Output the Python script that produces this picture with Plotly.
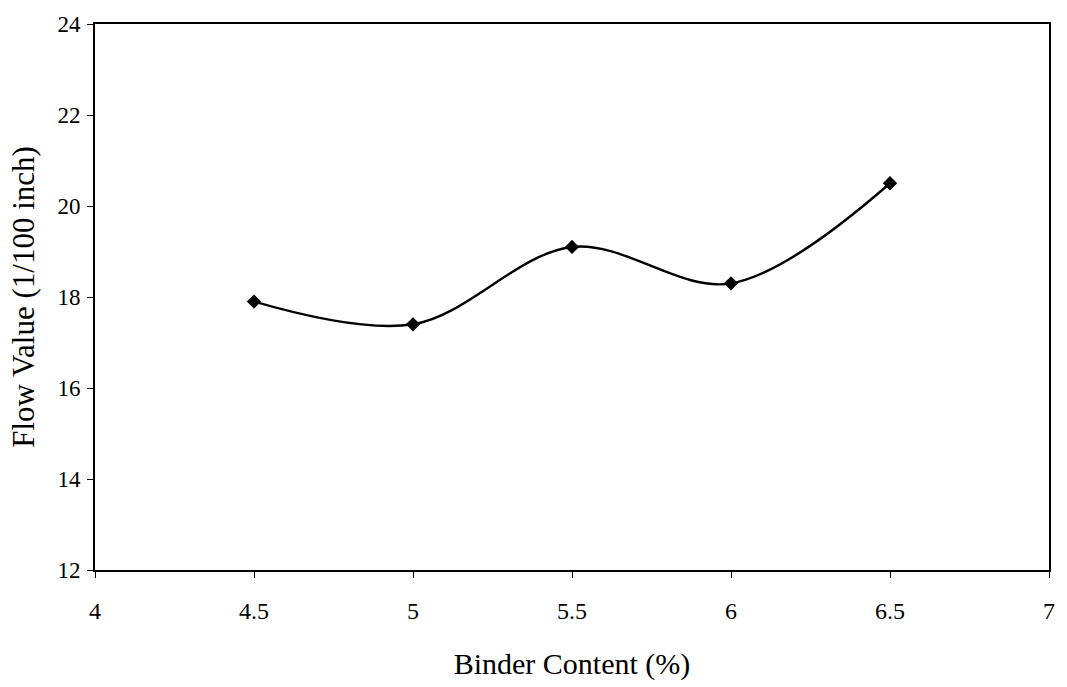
import plotly.graph_objects as go

# Marshall flow test results
binder_content = [4.5, 5.0, 5.5, 6.0, 6.5]
flow_value = [17.9, 17.4, 19.1, 18.3, 20.5]

x_ticks = [4, 4.5, 5, 5.5, 6, 6.5, 7]
x_tick_text = ["4", "4.5", "5", "5.5", "6", "6.5", "7"]
y_ticks = [12, 14, 16, 18, 20, 22, 24]

font_family = "Liberation Serif, Times New Roman, serif"

fig = go.Figure()
fig.add_trace(go.Scatter(
    x=binder_content,
    y=flow_value,
    mode="lines+markers",
    line=dict(color="black", width=2.4, shape="spline", smoothing=1.0),
    marker=dict(symbol="diamond", size=11, color="black"),
    showlegend=False,
))

axis_common = dict(
    showgrid=False,
    zeroline=False,
    showline=True,
    linecolor="black",
    linewidth=2,
    mirror=True,
    ticks="outside",
    ticklen=6,
    tickwidth=1,
    tickcolor="black",
)

fig.update_layout(
    width=1067,
    height=687,
    margin=dict(l=95, r=15, t=22, b=116),
    paper_bgcolor="white",
    plot_bgcolor="white",
    xaxis=dict(
        range=[4, 7],
        tickvals=x_ticks,
        ticktext=x_tick_text,
        ticklabelstandoff=12,
        tickfont=dict(family=font_family, size=24, color="black"),
        title=dict(text="Binder Content (%)", font=dict(family=font_family, size=30, color="black"), standoff=30),
        **axis_common,
    ),
    yaxis=dict(
        range=[12, 24],
        tickvals=y_ticks,
        ticklabelstandoff=2,
        tickfont=dict(family=font_family, size=23, color="black"),
        title=dict(text="Flow Value (1/100 inch)", font=dict(family=font_family, size=31, color="black"), standoff=14),
        **axis_common,
    ),
)

fig.write_html("out.html")
